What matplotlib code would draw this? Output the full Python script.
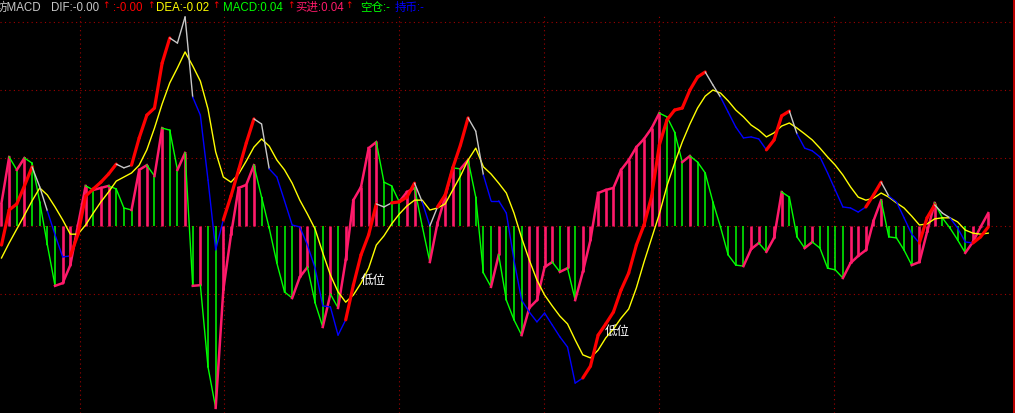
import numpy as np
import matplotlib.pyplot as plt

plt.rcParams['font.family'] = ['Liberation Sans', 'Noto Sans CJK SC', 'DejaVu Sans']

# 日线 MACD 数据
dif = [
    -0.056, 0.047, 0.065, 0.118, 0.174, 0.115, 0.044, -0.026, -0.091, -0.088,
    -0.024, 0.088, 0.109, 0.129, 0.153, 0.182, 0.171, 0.179, 0.259, 0.326,
    0.347, 0.479, 0.553, 0.538, 0.615, 0.379, 0.326, 0.135, -0.070, 0.018,
    0.088, 0.165, 0.244, 0.315, 0.300, 0.168, 0.144, 0.074, 0.003, -0.003,
    -0.056, -0.124, -0.235, -0.238, -0.321, -0.276, -0.174, -0.085, -0.026, 0.065,
    0.056, 0.068, 0.071, 0.085, 0.126, 0.071, 0.000, 0.056, 0.091, 0.171,
    0.238, 0.318, 0.279, 0.150, 0.074, 0.074, 0.038, -0.100, -0.218, -0.253,
    -0.282, -0.256, -0.291, -0.326, -0.356, -0.462, -0.447, -0.412, -0.321, -0.288,
    -0.253, -0.188, -0.138, -0.056, 0.003, 0.088, 0.238, 0.312, 0.341, 0.347,
    0.400, 0.438, 0.453, 0.415, 0.379, 0.335, 0.291, 0.259, 0.262, 0.256,
    0.224, 0.253, 0.324, 0.338, 0.271, 0.229, 0.221, 0.203, 0.156, 0.106,
    0.056, 0.053, 0.041, 0.056, 0.091, 0.129, 0.088, 0.071, 0.024, -0.024,
    -0.050, 0.024, 0.062, 0.038, 0.024, -0.006, -0.047, -0.050, -0.032, -0.003,
]
dea = [
    -0.094, -0.050, -0.009, 0.032, 0.074, 0.112, 0.091, 0.056, 0.018, -0.024,
    -0.024, 0.003, 0.038, 0.071, 0.100, 0.132, 0.144, 0.156, 0.179, 0.224,
    0.288, 0.359, 0.421, 0.465, 0.512, 0.471, 0.426, 0.344, 0.218, 0.144,
    0.129, 0.153, 0.191, 0.232, 0.256, 0.235, 0.194, 0.165, 0.126, 0.076,
    0.035, -0.009, -0.079, -0.144, -0.194, -0.224, -0.203, -0.168, -0.124, -0.056,
    -0.029, 0.006, 0.035, 0.059, 0.076, 0.076, 0.047, 0.053, 0.065, 0.106,
    0.147, 0.194, 0.229, 0.174, 0.153, 0.126, 0.097, 0.038, -0.035, -0.100,
    -0.159, -0.203, -0.235, -0.265, -0.288, -0.335, -0.379, -0.388, -0.365, -0.329,
    -0.303, -0.271, -0.244, -0.182, -0.106, -0.035, 0.035, 0.118, 0.185, 0.247,
    0.300, 0.347, 0.382, 0.400, 0.391, 0.368, 0.341, 0.321, 0.297, 0.282,
    0.262, 0.274, 0.294, 0.303, 0.288, 0.271, 0.253, 0.229, 0.203, 0.179,
    0.150, 0.115, 0.085, 0.076, 0.082, 0.097, 0.085, 0.068, 0.053, 0.029,
    0.003, 0.006, 0.021, 0.024, 0.024, 0.012, -0.012, -0.021, -0.024, -0.021,
]
macd = [
    0.068, 0.203, 0.165, 0.200, 0.185, 0.071, -0.056, -0.176, -0.168, -0.115,
    0.003, 0.118, 0.106, 0.112, 0.118, 0.109, 0.053, 0.047, 0.165, 0.179,
    0.147, 0.288, 0.282, 0.165, 0.215, -0.176, -0.174, -0.415, -0.535, -0.188,
    -0.026, 0.112, 0.121, 0.179, 0.085, -0.006, -0.109, -0.194, -0.212, -0.150,
    -0.121, -0.226, -0.297, -0.200, -0.241, -0.100, 0.076, 0.115, 0.229, 0.247,
    0.129, 0.118, 0.071, 0.100, 0.112, 0.000, -0.106, 0.009, 0.085, 0.171,
    0.168, 0.194, 0.085, -0.138, -0.179, -0.085, -0.218, -0.276, -0.321, -0.241,
    -0.218, -0.121, -0.106, -0.135, -0.124, -0.218, -0.135, -0.041, 0.097, 0.106,
    0.112, 0.165, 0.194, 0.232, 0.256, 0.288, 0.332, 0.321, 0.276, 0.188,
    0.206, 0.188, 0.156, 0.071, -0.003, -0.085, -0.115, -0.118, -0.068, -0.050,
    -0.076, -0.035, 0.100, 0.085, -0.032, -0.065, -0.047, -0.065, -0.124, -0.129,
    -0.153, -0.109, -0.088, -0.071, 0.015, 0.076, -0.032, -0.035, -0.071, -0.115,
    -0.106, -0.018, 0.068, 0.024, -0.006, -0.041, -0.079, -0.047, -0.003, 0.038,
]
# DIF 状态: 1 = 买进, 0 = 空仓, -1 = 持币
signal = [
    1, 1, 1, 1, 1, 0, 0, -1, -1, -1,
    1, 1, 1, 1, 1, 1, 0, 0, 1, 1,
    1, 1, 1, 0, 0, 0, -1, -1, -1, -1,
    1, 1, 1, 1, 0, 0, -1, -1, -1, -1,
    -1, -1, -1, -1, -1, -1, 1, 1, 1, 1,
    0, 0, 1, 1, 1, 0, -1, 0, 1, 1,
    1, 1, 0, 0, -1, -1, -1, -1, -1, -1,
    -1, -1, -1, -1, -1, -1, -1, 1, 1, 1,
    1, 1, 1, 1, 1, 1, 1, 1, 1, 1,
    1, 1, 1, 0, 0, -1, -1, -1, -1, -1,
    -1, 1, 1, 1, 0, -1, -1, -1, -1, -1,
    -1, -1, -1, -1, 1, 1, 0, -1, -1, -1,
    -1, 1, 1, 0, 0, -1, -1, -1, 1, 1,
]
month_lines = [10.26, 29.12, 52.0, 70.95, 85.99, 108.86]
low_marks = [(46.9, -0.162), (78.9, -0.312)]

GRID = '#a00000'
PINK = '#ff1a6a'
GREEN = '#00ff00'

n = len(dif)
days = np.arange(n)
macd = np.array(macd)

fig = plt.figure(figsize=(10.15, 4.13), dpi=100, facecolor='black')
ax = fig.add_axes([0, 0, 1, 1], facecolor='black')
ax.set_xlim(-0.196, 132.5)
ax.set_ylim(-0.55, 0.6647)
ax.axis('off')

# 网格
for v in [0.6, 0.4, 0.2, 0.0, -0.2]:
    ax.axhline(v, xmax=0.998, color=GRID, lw=0.8, ls=(0, (1, 3)), zorder=0)
for m in month_lines:
    ax.axvline(m, ymax=0.964, color=GRID, lw=0.8, ls=(0, (1, 3)), zorder=0)
ax.axvline(132.35, color='#e00000', lw=1.2, zorder=0)

# MACD 柱 + 折线
up = np.r_[True, np.diff(macd) >= 0]
for i in days:
    c = PINK if up[i] else GREEN
    ax.vlines(i, 0, macd[i], color=c, lw=1.9 if up[i] else 1.1, zorder=1)
    if i > 0:
        ax.plot([i - 1, i], [macd[i - 1], macd[i]], color=c,
                lw=1.8 if up[i] else 1.0, zorder=1)

# DEA
ax.plot(days, dea, color='#ffff00', lw=1.0, zorder=3)

# DIF 按状态分段上色
seg_color = {1: '#ff0000', 0: '#c8c8c8', -1: '#0000ff'}
for i in range(1, n):
    s = signal[i]
    ax.plot([i - 1, i], [dif[i - 1], dif[i]], color=seg_color[s],
            lw=2.3 if s == 1 else 1.0, solid_capstyle='round', zorder=4)

for x, y in low_marks:
    ax.text(x, y, '低位', color='white', fontsize=9, va='center', ha='left', zorder=5)

# 顶部标题
header = [
    (-4, '坊MACD', '#c8c8c8'),
    (51, 'DIF:-0.00', '#c8c8c8'),
    (113, ':-0.00', '#ff0000'),
    (156, 'DEA:-0.02', '#ffff00'),
    (223, 'MACD:0.04', '#00ff00'),
    (295, '买进:0.04', PINK),
    (360, '空仓:-', '#00ff00'),
    (395, '持币:-', '#0000ff'),
]
for px, s, c in header:
    fig.text(px / 1015, 1 - 8 / 413, s, color=c, fontsize=8.3,
             va='center', ha='left')
for px in [102, 147, 212, 287, 345]:
    fig.text(px / 1015, 1 - 5 / 413, '↑', color='#ff0000', fontsize=6.5,
             family='DejaVu Sans', va='center', ha='left')

plt.savefig('out.png', dpi=100, facecolor='black')
